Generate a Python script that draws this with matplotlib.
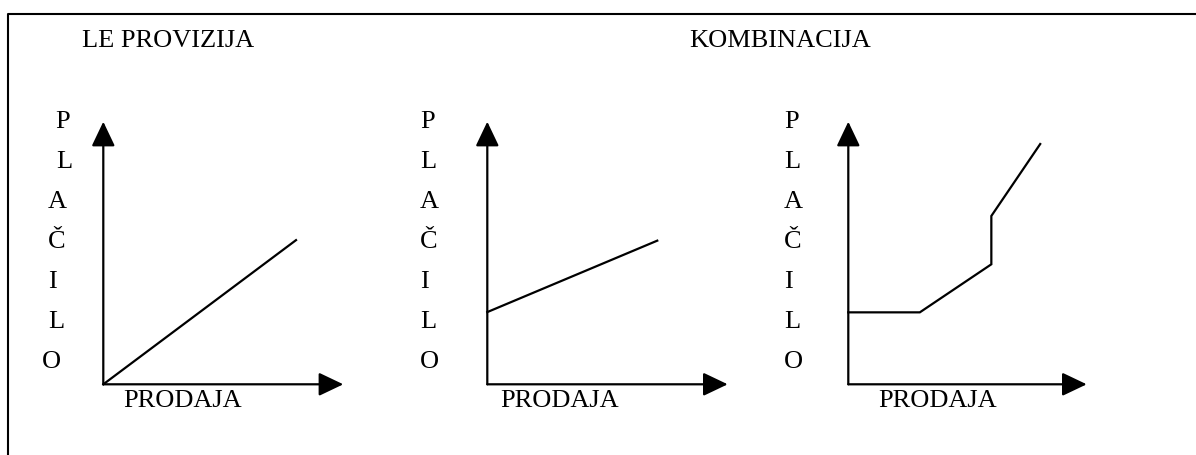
import matplotlib.pyplot as plt
from matplotlib.lines import Line2D

W, H = 1196, 455

# --- Données des trois schémas (prodaja -> plačilo, unités arbitraires 0..10) ---
titles = ["LE PROVIZIJA", "KOMBINACIJA"]
y_label_letters = ["P", "L", "A", "Č", "I", "L", "O"]
x_label = "PRODAJA"

provizija_x = [0.0, 8.03]
provizija_y = [0.0, 5.49]

fiksno_x = [0.0, 7.07]
fiksno_y = [2.75, 5.47]

kombinacija_x = [0.0, 3.0, 6.0, 6.0, 8.05]
kombinacija_y = [2.74, 2.74, 4.57, 6.41, 9.15]

panels_x = [provizija_x, fiksno_x, kombinacija_x]
panels_y = [provizija_y, fiksno_y, kombinacija_y]

# --- Mise en page (pixels) ---
origins = [(103.3, 384.3), (487.3, 384.3), (848.3, 384.3)]
tips = [(343.3, 121.7), (727.7, 121.7), (1086.7, 121.7)]
letter_left = [[55, 56, 48, 48, 48, 48, 42],
               [420] * 7,
               [784] * 7]
xlabel_left = [123, 500, 878]


def fx(x):
    return x / W


def fy(y):
    return 1 - y / H


plt.rcParams['font.family'] = ['Liberation Serif', 'DejaVu Serif']

fig = plt.figure(figsize=(W / 100, H / 100), dpi=100)

# cadre (bord gauche et haut)
fig.add_artist(Line2D([fx(8), fx(8), 1.0], [0.0, fy(14), fy(14)],
                      transform=fig.transFigure, color='black', lw=1.5))

fig.text(fx(82), fy(41), titles[0], fontsize=19, va='center', ha='left')
fig.text(fx(689), fy(41), titles[1], fontsize=19, va='center', ha='left')

for i in range(3):
    (x0, y0), (x1, y1) = origins[i], tips[i]
    ax = fig.add_axes([fx(x0), fy(y0), (x1 - x0) / W, (y0 - y1) / H])
    ax.set_xlim(0, 10)
    ax.set_ylim(0, 10)
    ax.axis('off')

    arrow = dict(arrowstyle='-|>,head_length=1.05,head_width=0.5',
                 color='black', lw=1.6, shrinkA=0, shrinkB=0,
                 mutation_scale=14.4)
    ax.annotate('', xy=(10, 0), xytext=(0, 0), arrowprops=arrow,
                annotation_clip=False)
    ax.annotate('', xy=(0, 10), xytext=(0, 0), arrowprops=arrow,
                annotation_clip=False)

    ax.plot(panels_x[i], panels_y[i], color='black', lw=1.6,
            solid_joinstyle='miter', clip_on=False)

    for k, letter in enumerate(y_label_letters):
        fig.text(fx(letter_left[i][k]), fy(121.7 + 40 * k), letter,
                 fontsize=19, va='center', ha='left')
    fig.text(fx(xlabel_left[i]), fy(401), x_label, fontsize=19,
             va='center', ha='left')

fig.savefig("out.png", dpi=100, facecolor='white')
